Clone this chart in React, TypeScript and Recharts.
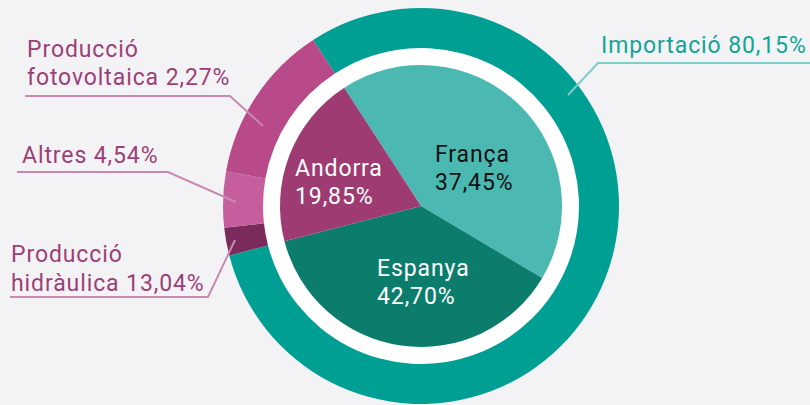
import { PieChart, Pie, Cell } from "recharts";

// inner pie: origin of imported energy (sizes as drawn, labels as printed)
const supplyNames = ["França", "Espanya", "Andorra"];
const supplyShares = [42.7, 37.45, 19.85];
const supplyLabels = ["37,45%", "42,70%", "19,85%"];

// outer ring: total supply
const sourceNames = [
  "Importació",
  "Producció hidràulica",
  "Altres",
  "Producció fotovoltaica",
];
const sourceShares = [80.15, 2.27, 4.54, 13.04];
const sourceLabels = ["80,15%", "13,04%", "4,54%", "2,27%"];

const SUPPLY_COLORS = ["#4bb9b2", "#0c7d6c", "#9e3b72"];
const SUPPLY_TEXT = ["#111111", "#ffffff", "#ffffff"];
const SOURCE_COLORS = ["#009f93", "#7a2b5b", "#c65e9e", "#b84a8a"];

const PINK_TEXT = "#9c3f78";
const PINK_LINE = "#c98ab1";
const TEAL_TEXT = "#12a497";
const TEAL_LINE = "#7ccfc8";

const CX = 421;
const CY = 206;
const START = 123;
const END = START - 360;

const FONT = "Roboto, 'Liberation Sans', sans-serif";
const FS = 23;
const LS = 0.9;

export default function App() {
  const inner = supplyNames.map((name, i) => ({
    name,
    value: supplyShares[i],
    label: supplyLabels[i],
  }));
  const outer = sourceNames.map((name, i) => ({
    name,
    value: sourceShares[i],
    label: sourceLabels[i],
  }));

  // text placement for the slice labels (layout only)
  const innerText = [
    { x: 435, y: 162 },
    { x: 377, y: 276 },
    { x: 295, y: 176 },
  ];

  const txt = { fontSize: FS, fontFamily: FONT, letterSpacing: LS };

  return (
    <div
      style={{
        position: "absolute",
        left: 0,
        top: 0,
        width: 810,
        height: 405,
        background: "#f3f3f5",
        overflow: "hidden",
        fontFamily: FONT,
      }}
    >
      <PieChart width={810} height={405} margin={{ top: 0, right: 0, bottom: 0, left: 0 }}>
        <Pie
          data={[{ name: "gap", value: 1 }]}
          dataKey="value"
          cx={CX}
          cy={CY}
          innerRadius={0}
          outerRadius={159}
          startAngle={START}
          endAngle={END}
          fill="#ffffff"
          stroke="none"
          isAnimationActive={false}
        />
        <Pie
          data={inner}
          dataKey="value"
          nameKey="name"
          cx={CX}
          cy={CY}
          innerRadius={0}
          outerRadius={141}
          startAngle={START}
          endAngle={END}
          stroke="none"
          isAnimationActive={false}
        >
          {inner.map((d, i) => (
            <Cell key={d.name} fill={SUPPLY_COLORS[i]} />
          ))}
        </Pie>
        <Pie
          data={outer}
          dataKey="value"
          nameKey="name"
          cx={CX}
          cy={CY}
          innerRadius={158}
          outerRadius={198}
          startAngle={START}
          endAngle={END}
          stroke="none"
          isAnimationActive={false}
        >
          {outer.map((d, i) => (
            <Cell key={d.name} fill={SOURCE_COLORS[i]} />
          ))}
        </Pie>
      </PieChart>

      <svg
        width={810}
        height={405}
        style={{ position: "absolute", left: 0, top: 0, pointerEvents: "none" }}
      >
        {inner.map((d, i) => (
          <text
            key={d.name}
            x={innerText[i].x}
            y={innerText[i].y}
            fill={SUPPLY_TEXT[i]}
            style={txt}
          >
            <tspan x={innerText[i].x}>{d.name}</tspan>
            <tspan x={innerText[i].x} dy={28}>
              {d.label}
            </tspan>
          </text>
        ))}

        {/* Importació */}
        <polyline
          points="812,63 598,63 568,95"
          fill="none"
          stroke={TEAL_LINE}
          strokeWidth={2}
        />
        <text x={601} y={53} fill={TEAL_TEXT} style={txt}>
          {outer[0].name} {outer[0].label}
        </text>

        {/* fotovoltaica */}
        <polyline
          points="25,96 230,96 263,126"
          fill="none"
          stroke={PINK_LINE}
          strokeWidth={2}
        />
        <text x={27} y={57} fill={PINK_TEXT} style={txt}>
          <tspan x={27}>Producció</tspan>
          <tspan x={27} dy={28}>
            fotovoltaica {outer[3].label}
          </tspan>
        </text>

        {/* Altres */}
        <polyline
          points="17,172 168,172 236,202"
          fill="none"
          stroke={PINK_LINE}
          strokeWidth={2}
        />
        <text x={22} y={163} fill={PINK_TEXT} style={txt}>
          {outer[2].name} {outer[2].label}
        </text>

        {/* hidràulica */}
        <polyline
          points="10,297 208,297 235,240"
          fill="none"
          stroke={PINK_LINE}
          strokeWidth={2}
        />
        <text x={11} y={262} fill={PINK_TEXT} style={txt}>
          <tspan x={11}>Producció</tspan>
          <tspan x={11} dy={29}>
            hidràulica {outer[1].label}
          </tspan>
        </text>
      </svg>
    </div>
  );
}
